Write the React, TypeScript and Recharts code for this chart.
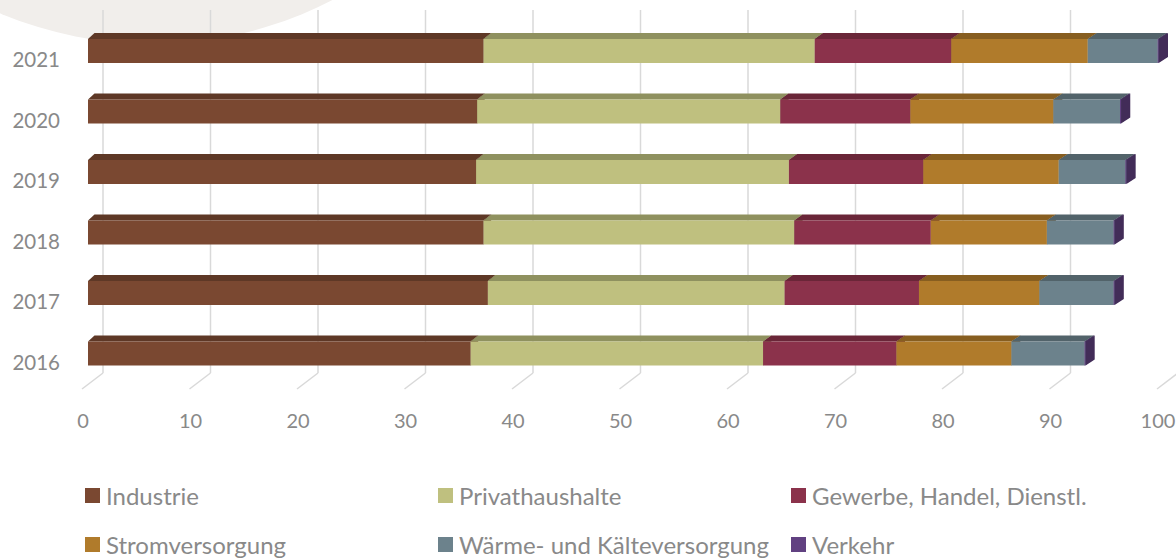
import React from "react";
import { Bar, BarChart, CartesianGrid, XAxis, YAxis } from "recharts";

document.body.style.margin = "0";

const years = ["2021", "2020", "2019", "2018", "2017", "2016"];
const industrie = [36.8, 36.2, 36.1, 36.8, 37.2, 35.6];
const privathaushalte = [30.8, 28.2, 29.1, 28.9, 27.6, 27.2];
const gewerbe = [12.7, 12.1, 12.5, 12.7, 12.5, 12.4];
const strom = [12.7, 13.3, 12.6, 10.8, 11.2, 10.7];
const waerme = [6.5, 6.2, 6.2, 6.2, 6.9, 6.8];
const verkehr = [0.1, 0.1, 0.1, 0.1, 0.1, 0.1];
const xTicks = [0, 10, 20, 30, 40, 50, 60, 70, 80, 90, 100];

const series = [
  { key: "industrie", name: "Industrie", front: "#7a4831", top: "#5e3826", side: "#4e2e1f" },
  { key: "privat", name: "Privathaushalte", front: "#bfc07f", top: "#8f915f", side: "#7d7f52" },
  { key: "gewerbe", name: "Gewerbe, Handel, Dienstl.", front: "#8b324b", top: "#6a2638", side: "#5a2030" },
  { key: "strom", name: "Stromversorgung", front: "#b07b2b", top: "#875e20", side: "#74501b" },
  { key: "waerme", name: "Wärme- und Kälteversorgung", front: "#6c828c", top: "#52636a", side: "#46555b" },
  { key: "verkehr", name: "Verkehr", front: "#614181", top: "#4a3263", side: "#422c58" },
];

const data = years.map((year, i) => ({
  year,
  industrie: industrie[i],
  privat: privathaushalte[i],
  gewerbe: gewerbe[i],
  strom: strom[i],
  waerme: waerme[i],
  verkehr: verkehr[i],
}));

const FONT = "Lato, 'Open Sans', sans-serif";
const TEXT = "#898989";
const PLOT_TOP = 18;
const PLOT_H = 363;
const PLOT_BOTTOM = PLOT_TOP + PLOT_H;

// depth offset grows a little to the right (perspective)
const depthX = (x: number) => 6.5 + ((x - 88) / 1072) * 2.8;
const DEPTH_Y = 6;

function Block3D(props: any) {
  const { x, y, width, height, front, top, side } = props;
  if (width == null || width <= 0) return null;
  const fy = y + 3;
  const h = height;
  const d1 = depthX(x);
  const d2 = depthX(x + width);
  return (
    <g>
      <polygon
        points={`${x + width},${fy} ${x + width + d2},${fy - DEPTH_Y} ${x + width + d2},${fy + h - DEPTH_Y} ${x + width},${fy + h}`}
        fill={side}
      />
      <polygon
        points={`${x},${fy} ${x + d1},${fy - DEPTH_Y} ${x + width + d2},${fy - DEPTH_Y} ${x + width},${fy}`}
        fill={top}
      />
      <rect x={x} y={fy} width={width} height={h} fill={front} />
    </g>
  );
}

function GridLine(props: any) {
  const { x1, index } = props;
  const back = x1 + 15;
  return (
    <g key={`grid-${index}`}>
      <line x1={back} y1={PLOT_TOP - 8} x2={back} y2={PLOT_BOTTOM - 8} stroke="#d9d9d9" strokeWidth={1.5} />
      <line x1={x1 - 6} y1={PLOT_BOTTOM + 8} x2={back} y2={PLOT_BOTTOM - 8} stroke="#d9d9d9" strokeWidth={1.5} />
    </g>
  );
}

function XTick(props: any) {
  const { x, payload } = props;
  return (
    <text x={x - 5} y={PLOT_BOTTOM + 39} textAnchor="middle" dominantBaseline="central" fill={TEXT} fontSize={20} fontFamily={FONT}>
      {payload.value}
    </text>
  );
}

function YTick(props: any) {
  const { y, payload } = props;
  return (
    <text x={60} y={y + 11} textAnchor="end" dominantBaseline="central" fill={TEXT} fontSize={20.5} fontFamily={FONT}>
      {payload.value}
    </text>
  );
}

const legendCols = [85, 438, 791];
const legendRows = [495.5, 544.5];

export default function App() {
  return (
    <div style={{ position: "relative", width: 1176, height: 558, background: "#fff", overflow: "hidden" }}>
      <div
        style={{
          position: "absolute",
          left: 152 - 392,
          top: -348 - 392,
          width: 784,
          height: 784,
          borderRadius: "50%",
          background: "#f1eeeb",
        }}
      />
      <div style={{ position: "absolute", left: 0, top: 0 }}>
        <BarChart
          width={1176}
          height={558}
          data={data}
          layout="vertical"
          margin={{ top: PLOT_TOP, right: 13, bottom: 117, left: 0 }}
          barSize={24}
        >
          <CartesianGrid horizontal={false} vertical={GridLine} />
          <XAxis
            type="number"
            domain={[0, 100]}
            ticks={xTicks}
            height={60}
            axisLine={false}
            tickLine={false}
            tick={XTick}
            interval={0}
          />
          <YAxis type="category" dataKey="year" width={88} axisLine={false} tickLine={false} tick={YTick} />
          {series.map((s) => (
            <Bar
              key={s.key}
              dataKey={s.key}
              name={s.name}
              stackId="a"
              fill={s.front}
              isAnimationActive={false}
              shape={(p: any) => <Block3D {...p} front={s.front} top={s.top} side={s.side} />}
            />
          ))}
        </BarChart>
      </div>
      {series.map((s, i) => {
        const cx = legendCols[i % 3];
        const cy = legendRows[Math.floor(i / 3)];
        return (
          <div
            key={s.key}
            style={{
              position: "absolute",
              left: cx,
              top: cy - 13,
              height: 26,
              lineHeight: "26px",
              display: "flex",
              alignItems: "center",
              fontFamily: FONT,
              fontSize: 24,
              color: TEXT,
              whiteSpace: "nowrap",
            }}
          >
            <span style={{ display: "inline-block", width: 15, height: 15, background: s.front, marginRight: 6 }} />
            <span>{s.name}</span>
          </div>
        );
      })}
    </div>
  );
}
